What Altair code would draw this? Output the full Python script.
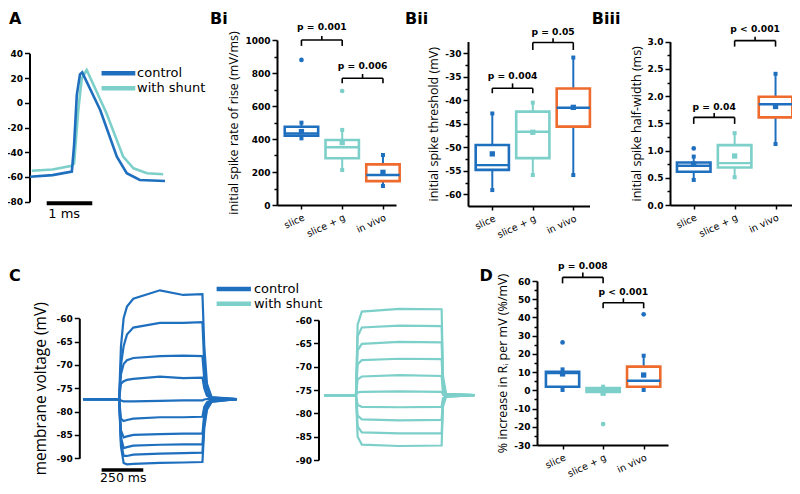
import altair as alt
import pandas as pd

W, H = 784, 478

CATS = ["slice", "slice + g", "in vivo"]
CAT_COLORS = ["#1f6fbf", "#7dcfca", "#ee6b2d"]
SERIES = ["control", "with shunt"]
SERIES_COLORS = ["#1f6fbf", "#7dcfca"]

# ---------------- Panel A : spike waveforms (ms, mV)
A_CTRL_T = [0.00, 0.50, 0.93, 0.98, 1.04, 1.11, 1.16, 1.56, 1.93, 2.15, 2.44, 3.00]
A_CTRL_V = [-59.8, -58.5, -55.7, -34.0, 6.3, 23.0, 24.6, -5.9, -43.6, -57.0, -62.4, -63.3]
A_SH_T = [0.04, 0.50, 0.93, 0.98, 1.07, 1.15, 1.26, 1.70, 2.07, 2.30, 2.60, 2.96]
A_SH_V = [-55.0, -54.0, -51.0, -49.0, -7.2, 19.8, 26.5, -8.5, -43.6, -53.0, -57.0, -57.8]
A_LEG_T0, A_LEG_T1, A_LEG_TXT_T = 1.59, 2.34, 2.38
A_LEG_V = [23.8, 11.7]
A_BAR_T = [0.371, 1.384]
A_BAR_V = -81.3
A_BAR_LABEL = ("1 ms", 0.76, -90.0)
A_LETTER = ("A", -0.467, 67.7)

# ---------------- Panel B box statistics (slice, slice + g, in vivo)
BI = dict(lo=[404, 212, 115], q1=[420, 283, 145], med=[433, 350, 182], q3=[474, 394, 246],
          hi=[499, 455, 303], mean=[445, 378, 198])
BI_OUT = (["slice", "slice + g"], [879, 691])
BI_P = dict(text=["p = 0.001", "p = 0.006"], a=[0, 1], b=[1, 2], line=[1000, 768],
            end=[964, 738], tick=[1024, 794], label=[1079, 842])

BII = dict(lo=[-59.1, -55.9, -55.9], q1=[-54.8, -52.3, -45.6], med=[-53.8, -46.7, -41.6],
           q3=[-49.5, -42.4, -37.5], hi=[-42.8, -40.5, -30.9], mean=[-51.4, -46.8, -41.5])
BII_OUT = ([], [])
BII_P = dict(text=["p = 0.004", "p = 0.05"], a=[0, 1], b=[1, 2], line=[-37.45, -27.7],
             end=[-38.5, -29.3], tick=[-36.4, -26.8], label=[-34.8, -25.4])

BIII = dict(lo=[0.46, 0.51, 1.12], q1=[0.61, 0.69, 1.61], med=[0.72, 0.77, 1.85],
            q3=[0.78, 1.10, 1.99], hi=[0.89, 1.32, 2.41], mean=[0.75, 0.90, 1.81])
BIII_OUT = (["slice"], [1.04])
BIII_P = dict(text=["p = 0.04", "p < 0.001"], a=[0, 1], b=[1, 2], line=[1.61, 3.02],
              end=[1.49, 2.91], tick=[1.69, 3.09], label=[1.80, 3.23])

D = dict(lo=[0.2, -1.8, 0.2], q1=[2.0, -0.9, 2.0], med=[9.5, 0.2, 5.3], q3=[10.2, 1.2, 13.0],
         hi=[11.5, 2.0, 19.0], mean=[9.0, -1.5, 8.4])
D_OUT = (["slice", "slice + g", "in vivo"], [26.3, -18.5, 41.7])
D_P = dict(text=["p = 0.008", "p < 0.001"], a=[0, 1], b=[1, 2], line=[62.0, 48.1],
           end=[58.7, 45.0], tick=[64.6, 50.5], label=[68.2, 54.1])

# ---------------- Panel C : voltage steps (ms, mV)
C_L_T = [0, 215, 226, 242, 262, 300, 460, 600, 715, 726, 742, 770, 920]
C_L_V = [
    [-77.3, -77.3, -66.0, -60.0, -57.5, -55.8, -54.0, -55.0, -54.8, -66.0, -74.0, -76.9, -77.3],
    [-77.3, -77.3, -70.0, -66.0, -63.5, -62.0, -61.0, -61.0, -60.8, -70.0, -75.0, -77.0, -77.3],
    [-77.3, -77.3, -72.0, -69.8, -69.0, -68.5, -68.1, -68.0, -68.1, -73.0, -76.0, -77.1, -77.3],
    [-77.3, -77.3, -74.0, -73.5, -73.2, -73.0, -72.5, -72.8, -72.7, -75.0, -76.6, -77.2, -77.3],
    [-77.3, -77.3, -77.6, -77.8, -77.8, -77.8, -77.7, -77.6, -77.6, -77.4, -77.3, -77.3, -77.3],
    [-77.3, -77.3, -81.5, -82.0, -81.8, -81.5, -81.2, -81.2, -81.1, -79.0, -78.0, -77.5, -77.3],
    [-77.3, -77.3, -84.0, -85.5, -85.3, -85.0, -84.8, -84.7, -84.7, -80.5, -78.5, -77.6, -77.3],
    [-77.3, -77.3, -85.5, -87.8, -87.6, -87.3, -87.1, -87.0, -87.0, -81.5, -79.0, -77.7, -77.3],
    [-77.3, -77.3, -86.5, -89.5, -89.5, -89.2, -89.0, -88.9, -88.8, -82.5, -79.3, -77.8, -77.3],
    [-77.3, -77.3, -87.5, -91.0, -91.3, -91.2, -91.0, -90.9, -90.8, -83.5, -79.6, -77.9, -77.3],
]
C_R_T = [0, 190, 200, 225, 450, 704, 712, 730, 900]
C_R_V = [
    [-76.1, -76.1, -61.0, -58.2, -57.6, -57.7, -72.0, -75.8, -76.1],
    [-76.1, -76.1, -63.5, -61.6, -61.2, -61.3, -73.0, -75.9, -76.1],
    [-76.1, -76.1, -66.5, -65.1, -64.7, -64.8, -74.0, -75.9, -76.1],
    [-76.1, -76.1, -69.5, -68.6, -68.3, -68.4, -74.8, -76.0, -76.1],
    [-76.1, -76.1, -72.7, -72.1, -71.8, -72.0, -75.3, -76.0, -76.1],
    [-76.1, -76.1, -75.5, -75.4, -75.3, -75.4, -76.0, -76.1, -76.1],
    [-76.1, -76.1, -78.2, -78.6, -78.7, -78.6, -76.8, -76.2, -76.1],
    [-76.1, -76.1, -80.5, -81.3, -81.5, -81.4, -77.4, -76.3, -76.1],
    [-76.1, -76.1, -82.8, -84.1, -84.3, -84.3, -78.0, -76.4, -76.1],
    [-76.1, -76.1, -85.0, -86.7, -87.0, -86.9, -78.6, -76.5, -76.1],
]
C_LEG_T0, C_LEG_T1, C_LEG_TXT_T = 800, 1006, 1024
C_LEG_V = [-53.7, -56.9]
C_BAR_T = [110, 360]
C_BAR_V = -92.5
C_BAR_LABEL = ("250 ms", 240, -94.2)
C_LETTER = ("C", -446, -50.9)

LETTERS = {"Bi": ("Bi", -2.245, 1127), "Bii": ("Bii", -2.156, -22.7),
           "Biii": ("Biii", -2.49, 3.419), "D": ("D", -2.05, 62.85)}

# ---------------- layout (pixel ranges of each panel inside the canvas)
LAYOUT = {
    "A": {"x": ([0, 3], [22, 157]), "y": ([-80, 40], [193.7, 45.3]), "ax": 21.5},
    "Bi": {"x": ([-0.6, 2.32], [269, 388]), "y": ([0, 1000], [197, 32]), "ax": 269, "ay": 197},
    "Bii": {"x": ([-0.6, 2.4], [460, 581.5]), "y": ([-62.5, -27.5], [198.05, 33.55]), "ax": 460, "ay": 198},
    "Biii": {"x": ([-0.58, 2.4], [662, 783.9]), "y": ([0, 3], [197, 33.7]), "ax": 662, "ay": 197},
    "Cl": {"x": ([0, 920], [75.3, 228.6]), "y": ([-90, -60], [450.3, 310.3]), "ax": 71.3},
    "Cr": {"x": ([0, 900], [316.3, 466.3]), "y": ([-90, -60], [452, 312]), "ax": 310.5},
    "D": {"x": ([-0.63, 2.6], [529, 660]), "y": ([-30, 60], [437, 273]), "ax": 529, "ay": 437},
}

FONT_LBL = "DejaVu Sans"
FONT_TTL = "Open Sans"
FONT_TXT = "DejaVu Sans"


def sc(dom, rng):
    return alt.Scale(domain=dom, range=rng, nice=False, zero=False)


def XY(key):
    L = LAYOUT[key]
    xs = sc(*L["x"])
    ys = sc(*L["y"])

    def X(f, axis=None):
        return alt.X(f, type="quantitative", scale=xs, axis=axis)

    def Y(f, axis=None):
        return alt.Y(f, type="quantitative", scale=ys, axis=axis)
    return X, Y


def yaxis(key, values, expr, title=None, **kw):
    return alt.Axis(orient="left", offset=-LAYOUT[key]["ax"], values=values, labelExpr=expr,
                    title=title, labelOverlap=False, **kw)


def minor_axis(key, values):
    return alt.Axis(orient="left", offset=-LAYOUT[key]["ax"], values=values, labels=False,
                    domain=False, tickSize=3, title=None)


cat_color = alt.Color("cat:N", scale=alt.Scale(domain=CATS, range=CAT_COLORS), legend=None)
cat_stroke = alt.Stroke("cat:N", scale=alt.Scale(domain=CATS, range=CAT_COLORS), legend=None)
ser_color = alt.Color("series:N", scale=alt.Scale(domain=SERIES, range=SERIES_COLORS), legend=None)


def letter_layer(key, item):
    X, Y = XY(key)
    df = pd.DataFrame({"t": [item[0]], "x": [item[1]], "y": [item[2]]})
    return alt.Chart(df).mark_text(align="left", baseline="middle", font=FONT_TXT, fontSize=16,
                                   fontWeight="bold", color="black").encode(x=X("x"), y=Y("y"), text="t:N")


def box_panel(key, st, out, pv, title, major, minor, expr, title_size=12.5):
    X, Y = XY(key)
    df = pd.DataFrame({"idx": [0, 1, 2], "cat": CATS, **st})
    base = alt.Chart(df)
    xaxis = alt.Axis(orient="bottom", offset=LAYOUT[key]["ay"] - H, values=[0, 1, 2],
                     labelExpr="['slice','slice + g','in vivo'][datum.value]", labelAngle=-25,
                     labelAlign="right", labelBaseline="top", labelFontWeight="normal",
                     labelFontSize=9.5, labelFlush=False, labelOverlap=False, title=None,
                     tickSize=4, labelPadding=3)
    layers = []
    layers.append(base.mark_point(opacity=0).encode(
        x=X("idx", xaxis), y=Y("med", yaxis(key, major, expr, title, titleFontSize=title_size))))
    layers.append(base.mark_point(opacity=0).encode(x=X("idx"), y=Y("med", minor_axis(key, minor))))
    layers.append(base.mark_rule(strokeWidth=2).encode(x=X("idx"), y=Y("lo"), y2=alt.Y2("hi"), color=cat_color))
    boxed = base.transform_calculate(x0="datum.idx - 0.41", x1="datum.idx + 0.41")
    layers.append(boxed.mark_rect(fill="white", strokeWidth=2.6).encode(
        x=X("x0"), x2=alt.X2("x1"), y=Y("q1"), y2=alt.Y2("q3"), stroke=cat_stroke))
    layers.append(boxed.mark_rule(strokeWidth=2.4).encode(x=X("x0"), x2=alt.X2("x1"), y=Y("med"), color=cat_color))
    layers.append(base.mark_square(size=28, opacity=1).encode(x=X("idx"), y=Y("mean"), color=cat_color))
    layers.append(base.transform_fold(["lo", "hi"], as_=["k", "v"]).mark_square(size=16, opacity=1).encode(
        x=X("idx"), y=Y("v:Q"), color=cat_color))
    if out[0]:
        odf = pd.DataFrame({"cat": out[0], "val": out[1], "idx": [CATS.index(c) for c in out[0]]})
        layers.append(alt.Chart(odf).mark_circle(size=22, opacity=1).encode(
            x=X("idx"), y=Y("val"), color=cat_color))
    pdf = pd.DataFrame(pv)
    pb = alt.Chart(pdf).transform_calculate(mid="(datum.a + datum.b) / 2")
    rule = dict(strokeWidth=1.6, color="black")
    layers.append(pb.mark_rule(**rule).encode(x=X("a"), x2=alt.X2("b"), y=Y("line")))
    layers.append(pb.mark_rule(**rule).encode(x=X("a"), y=Y("end"), y2=alt.Y2("line")))
    layers.append(pb.mark_rule(**rule).encode(x=X("b"), y=Y("end"), y2=alt.Y2("line")))
    layers.append(pb.mark_rule(**rule).encode(x=X("mid:Q"), y=Y("line"), y2=alt.Y2("tick")))
    layers.append(pb.mark_text(font=FONT_LBL, fontWeight="bold", fontSize=9.2, align="center",
                               baseline="middle", color="black").encode(x=X("mid:Q"), y=Y("label"), text="text:N"))
    layers.append(letter_layer(key, LETTERS[key]))
    return layers


layers = []

# ---- Panel A
X, Y = XY("A")
dfa_s = pd.DataFrame({"series": "with shunt", "t": A_SH_T, "v": A_SH_V})
dfa_c = pd.DataFrame({"series": "control", "t": A_CTRL_T, "v": A_CTRL_V})
layers.append(alt.Chart(dfa_s).mark_line(strokeWidth=2.6).encode(
    x=X("t"), y=Y("v", yaxis("A", [-80, -60, -40, -20, 0, 20, 40], "toString(datum.value)")), color=ser_color))
layers.append(alt.Chart(dfa_c).mark_line(strokeWidth=2.6).encode(x=X("t"), y=Y("v"), color=ser_color))
leg_a = pd.DataFrame({"series": SERIES, "v": A_LEG_V, "t0": A_LEG_T0, "t1": A_LEG_T1, "tt": A_LEG_TXT_T})
layers.append(alt.Chart(leg_a).mark_rule(strokeWidth=4.5).encode(x=X("t0"), x2=alt.X2("t1"), y=Y("v"), color=ser_color))
layers.append(alt.Chart(leg_a).mark_text(align="left", baseline="middle", font=FONT_TXT, fontSize=13,
                                         color="black").encode(x=X("tt"), y=Y("v"), text="series:N"))
bar_a = pd.DataFrame({"t0": [A_BAR_T[0]], "t1": [A_BAR_T[1]], "v": [A_BAR_V]})
layers.append(alt.Chart(bar_a).mark_rule(strokeWidth=4, color="black").encode(x=X("t0"), x2=alt.X2("t1"), y=Y("v")))
lab_a = pd.DataFrame({"txt": [A_BAR_LABEL[0]], "t": [A_BAR_LABEL[1]], "v": [A_BAR_LABEL[2]]})
layers.append(alt.Chart(lab_a).mark_text(baseline="middle", align="center", font=FONT_TXT, fontSize=13,
                                         color="black").encode(x=X("t"), y=Y("v"), text="txt:N"))
layers.append(letter_layer("A", A_LETTER))

# ---- Panels B
layers += box_panel("Bi", BI, BI_OUT, BI_P, "initial spike rate of rise (mV/ms)",
                    [0, 200, 400, 600, 800, 1000], [100, 300, 500, 700, 900], "toString(datum.value)")
layers += box_panel("Bii", BII, BII_OUT, BII_P, "initial spike threshold (mV)",
                    [-60, -55, -50, -45, -40, -35, -30], [-57.5, -52.5, -47.5, -42.5, -37.5, -32.5],
                    "toString(datum.value)")
layers += box_panel("Biii", BIII, BIII_OUT, BIII_P, "initial spike half-width (ms)",
                    [0, 0.5, 1, 1.5, 2, 2.5, 3], [0.25, 0.75, 1.25, 1.75, 2.25, 2.75],
                    "format(datum.value, '.1f')")
layers += box_panel("D", D, D_OUT, D_P, "% increase in R\u1d62 per mV (%/mV)",
                    [-30, -20, -10, 0, 10, 20, 30, 40, 50, 60], [-25, -15, -5, 5, 15, 25, 35, 45, 55],
                    "toString(datum.value)")

# ---- Panel C
X, Y = XY("Cl")
rows = []
for i, vals in enumerate(C_L_V):
    for t, v in zip(C_L_T, vals):
        rows.append({"trace": i, "t": t, "v": v})
dcl = pd.DataFrame(rows)
layers.append(alt.Chart(dcl).mark_line(strokeWidth=2.2, color=SERIES_COLORS[0]).encode(
    x=X("t"), y=Y("v", yaxis("Cl", [-90, -85, -80, -75, -70, -65, -60], "toString(datum.value)",
                             "membrane voltage (mV)", titleFontSize=15.5, titlePadding=8)),
    detail="trace:N"))
leg_c = pd.DataFrame({"series": SERIES, "v": C_LEG_V, "t0": C_LEG_T0, "t1": C_LEG_T1, "tt": C_LEG_TXT_T})
layers.append(alt.Chart(leg_c).mark_rule(strokeWidth=4.5).encode(x=X("t0"), x2=alt.X2("t1"), y=Y("v"), color=ser_color))
layers.append(alt.Chart(leg_c).mark_text(align="left", baseline="middle", font=FONT_TXT, fontSize=13,
                                         color="black").encode(x=X("tt"), y=Y("v"), text="series:N"))
bar_c = pd.DataFrame({"t0": [C_BAR_T[0]], "t1": [C_BAR_T[1]], "v": [C_BAR_V]})
layers.append(alt.Chart(bar_c).mark_rule(strokeWidth=3.5, color="black").encode(x=X("t0"), x2=alt.X2("t1"), y=Y("v")))
lab_c = pd.DataFrame({"txt": [C_BAR_LABEL[0]], "t": [C_BAR_LABEL[1]], "v": [C_BAR_LABEL[2]]})
layers.append(alt.Chart(lab_c).mark_text(baseline="middle", align="center", font=FONT_TXT, fontSize=12.5,
                                         color="black").encode(x=X("t"), y=Y("v"), text="txt:N"))
layers.append(letter_layer("Cl", C_LETTER))

X, Y = XY("Cr")
rows = []
for i, vals in enumerate(C_R_V):
    for t, v in zip(C_R_T, vals):
        rows.append({"trace": i, "t": t, "v": v})
dcr = pd.DataFrame(rows)
layers.append(alt.Chart(dcr).mark_line(strokeWidth=2.2, color=SERIES_COLORS[1]).encode(
    x=X("t"), y=Y("v", yaxis("Cr", [-90, -85, -80, -75, -70, -65, -60], "toString(datum.value)")),
    detail="trace:N"))

chart = alt.layer(*layers).resolve_scale(x="independent", y="independent").properties(
    width=W, height=H, padding=0, autosize=alt.AutoSizeParams(type="none")
).configure_view(strokeWidth=0).configure_axis(
    labelFont=FONT_LBL, labelFontWeight="bold", labelFontSize=9, labelColor="black",
    titleFont=FONT_TTL, titleFontWeight="normal", titleFontSize=12.5, titleColor="black",
    domainColor="black", domainWidth=2, tickColor="black", tickWidth=1.5, tickSize=5,
    grid=False, labelPadding=2, titlePadding=4
)

chart.save("out.html", embed_options={"renderer": "svg", "actions": False})
